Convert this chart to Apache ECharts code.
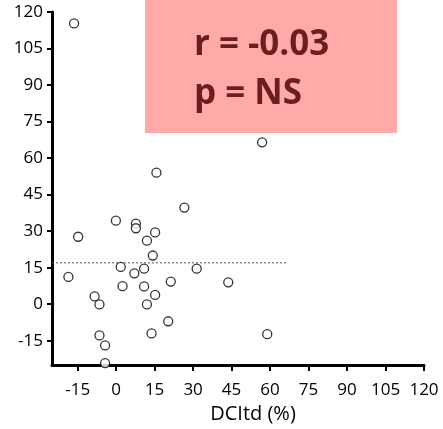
<!DOCTYPE html>
<html>
<head>
<meta charset="utf-8">
<script src="https://cdn.jsdelivr.net/npm/echarts@6/dist/echarts.min.js"></script>
<style>
  html, body { margin: 0; padding: 0; background: #fff; }
  #chart { width: 443px; height: 429px; }
</style>
</head>
<body>
<div id="chart"></div>
<script>
// 散点数据 [DCItd, y]
const points = [
    [-16.4, 115.3], [-0.1, 34.3], [7.7, 33.1], [7.7, 31.2], [12, 26.1],
    [-14.8, 27.7], [1.8, 15.3], [7.1, 12.7], [10.9, 14.6], [-18.6, 11.2],
    [2.5, 7.4], [10.9, 7.3], [-8.4, 3.2], [-6.5, -0.1], [12, -0.1],
    [-6.5, -12.8], [-4.3, -16.9], [-4.3, -24.2], [56.9, 66.5], [15.7, 54],
    [26.6, 39.7], [15.2, 29.5], [14.3, 20], [31.4, 14.6], [21.3, 9.3],
    [43.7, 9.0], [15.2, 3.8], [20.3, -7], [13.8, -12], [58.9, -12.3]
];
// 虚线（均值线）
const meanLine = [[-25, 17], [67, 17]];
// 刻度
const xTicks = [-15, 0, 15, 30, 45, 60, 75, 90, 105, 120];
const yTicks = [-15, 0, 15, 30, 45, 60, 75, 90, 105, 120];
const statLines = ['r = -0.03', 'p = NS'];

window.onload = () => {
    drawChart();
};

function drawChart() {
    var myChart = echarts.init(document.getElementById('chart'));
    var font = '"Open Sans", Lato, sans-serif';

    var option = {
        animation: false,
        grid: { left: 52, right: 19, top: 12, bottom: 60 },
        graphic: [
            {
                type: 'rect',
                left: 145, top: 0, z: -10,
                shape: { width: 252, height: 133 },
                style: { fill: '#ffaaa8' }
            },
            {
                type: 'text',
                left: 194, top: 21,
                style: {
                    text: statLines.join('\n'),
                    font: 'bold 35px ' + font,
                    lineHeight: 49,
                    fill: '#6b1e1e'
                }
            }
        ],
        xAxis: {
            type: 'value',
            min: -25,
            max: 120,
            name: 'DCItd (%)',
            nameLocation: 'middle',
            nameGap: 38,
            nameTextStyle: { fontSize: 20, color: '#000', fontFamily: font, padding: [0, 0, 0, 30] },
            splitLine: { show: false },
            axisLine: { show: true, onZero: false, lineStyle: { color: '#000', width: 3 } },
            axisTick: { show: true, customValues: xTicks, length: 6, lineStyle: { color: '#000', width: 2 } },
            axisLabel: { customValues: xTicks, fontSize: 17, color: '#000', fontFamily: font, margin: 17 }
        },
        yAxis: {
            type: 'value',
            min: -25,
            max: 120,
            splitLine: { show: false },
            axisLine: { show: true, onZero: false, lineStyle: { color: '#000', width: 3 } },
            axisTick: { show: true, customValues: yTicks, length: 5, lineStyle: { color: '#000', width: 2 } },
            axisLabel: { customValues: yTicks, fontSize: 17, color: '#000', fontFamily: font, margin: 9 }
        },
        series: [
            {
                type: 'line',
                data: meanLine,
                symbol: 'none',
                lineStyle: { color: '#555', width: 1, type: [2, 2] },
                z: 1
            },
            {
                type: 'scatter',
                data: points,
                symbol: 'circle',
                symbolSize: 9,
                itemStyle: { color: '#fff', borderColor: '#000', borderWidth: 1.3 },
                z: 3
            }
        ]
    };

    myChart.setOption(option);
}
</script>
</body>
</html>
